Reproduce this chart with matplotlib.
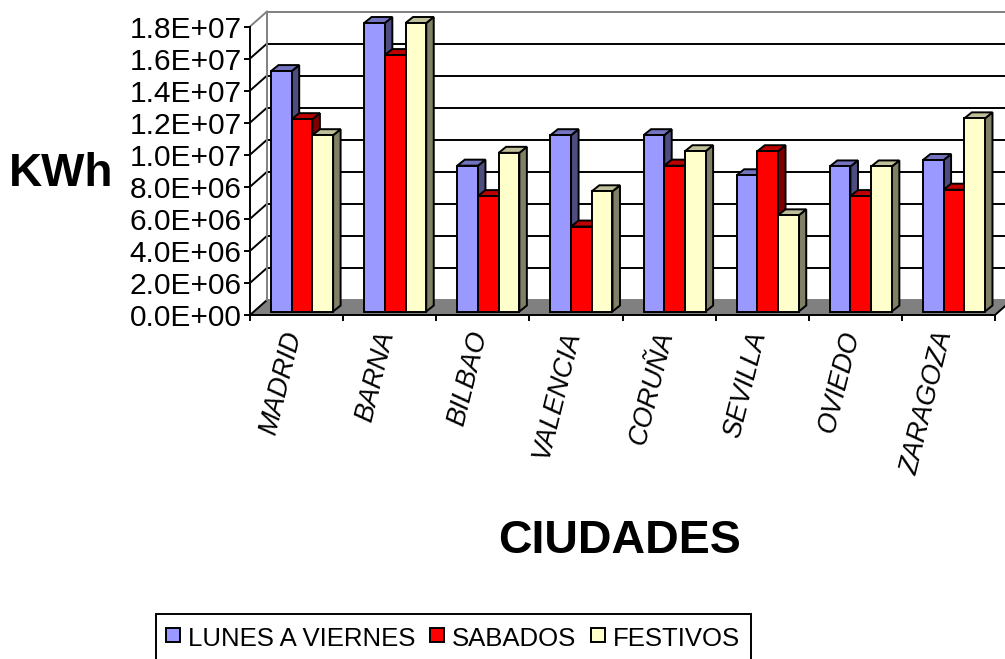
import matplotlib
matplotlib.use("Agg")
import matplotlib.pyplot as plt
from matplotlib.patches import Polygon
from matplotlib.lines import Line2D

plt.rcParams['font.family'] = ['Liberation Sans', 'DejaVu Sans']

ciudades = ["MADRID", "BARNA", "BILBAO", "VALENCIA", "CORUÑA", "SEVILLA", "OVIEDO", "ZARAGOZA"]
lunes_a_viernes = [1.5e7, 1.8e7, 9.1e6, 1.1e7, 1.1e7, 8.5e6, 9.05e6, 9.45e6]
sabados = [1.2e7, 1.6e7, 7.2e6, 5.3e6, 9.1e6, 1.0e7, 7.2e6, 7.6e6]
festivos = [1.1e7, 1.8e7, 9.9e6, 7.5e6, 1.0e7, 6.0e6, 9.05e6, 1.205e7]
y_ticks = [0, 2e6, 4e6, 6e6, 8e6, 1e7, 1.2e7, 1.4e7, 1.6e7, 1.8e7]
y_labels = ["0.0E+00", "2.0E+06", "4.0E+06", "6.0E+06", "8.0E+06",
            "1.0E+07", "1.2E+07", "1.4E+07", "1.6E+07", "1.8E+07"]

W, H = 1005, 659
L, R, B, T = 250, 995, 315, 26.5
fig = plt.figure(figsize=(W / 100, H / 100), dpi=100, facecolor="white")
ax = fig.add_axes([L / W, 1 - B / H, (R - L) / W, (B - T) / H])
ax.set_xlim(0, 8)
ax.set_ylim(0, 1.8e7)
ax.patch.set_visible(False)

px = 8 / (R - L)
py = 1.8e7 / (B - T)
LW = 1.4
wall_dx, wall_dy = 17 * px, 15 * py

# back wall, floor
floor = Polygon([(0, 0), (wall_dx, wall_dy), (8 + wall_dx, wall_dy), (8, 0)],
                closed=True, facecolor="#808080", edgecolor="none", zorder=1, clip_on=False)
ax.add_patch(floor)
for i, v in enumerate(y_ticks):
    top = v == y_ticks[-1]
    zero = v == 0
    col = "#808080" if top or zero else "black"
    ax.plot([wall_dx, 8 + wall_dx], [v + wall_dy] * 2, color=col, lw=LW, clip_on=False, zorder=1.5,
            solid_capstyle="butt")
    ax.plot([0, wall_dx], [v, v + wall_dy], color="#808080" if top else "black", lw=LW,
            clip_on=False, zorder=1.5)
ax.plot([wall_dx, wall_dx], [wall_dy, 1.8e7 + wall_dy], color="#808080", lw=LW, clip_on=False, zorder=1.5)
ax.plot([8, 8 + wall_dx], [0, wall_dy], color="black", lw=LW, clip_on=False, zorder=1.5)

# bars
series = [
    ("LUNES A VIERNES", lunes_a_viernes, "#9999FF", "#7373BF", "#4D4D80"),
    ("SABADOS", sabados, "#FF0000", "#BF0000", "#800000"),
    ("FESTIVOS", festivos, "#FFFFCC", "#BFBF99", "#808066"),
]
w = 20.7 * px
base = 3.5 * py
off = 5.5 * px
d_x, d_y = 7.5 * px, 6 * py
for k, (name, vals, face, topc, sidec) in enumerate(series):
    xs = [i + 0.5 + off + (k - 1) * w for i in range(len(vals))]
    ax.bar(xs, vals, width=w, bottom=base, color=face, edgecolor="black", linewidth=LW,
           zorder=4 + 2 * k, clip_on=False)
    for x, v in zip(xs, vals):
        x0, x1 = x - w / 2, x + w / 2
        y0, y1 = base, base + v
        ax.add_patch(Polygon([(x1, y0), (x1 + d_x, y0 + d_y), (x1 + d_x, y1 + d_y), (x1, y1)],
                             closed=True, facecolor=sidec, edgecolor="black", lw=LW,
                             zorder=3 + 2 * k, clip_on=False))
        ax.add_patch(Polygon([(x0, y1), (x0 + d_x, y1 + d_y), (x1 + d_x, y1 + d_y), (x1, y1)],
                             closed=True, facecolor=topc, edgecolor="black", lw=LW,
                             zorder=3 + 2 * k, clip_on=False))

# axes
for s in ("top", "right"):
    ax.spines[s].set_visible(False)
for s in ("left", "bottom"):
    ax.spines[s].set_linewidth(LW)
    ax.spines[s].set_zorder(2)
ax.set_yticks(y_ticks, y_labels)
ax.set_xticks(range(9), [""] * 9)
ax.set_xticks([i + 0.5 - 3 * px for i in range(8)], ciudades, minor=True)
ax.tick_params(axis="y", length=4, width=LW, labelsize=21.5, pad=2)
ax.tick_params(axis="x", which="major", length=4, width=LW)
ax.tick_params(axis="x", which="minor", length=0, labelsize=19.3, pad=12)
for lab in ax.get_xticklabels(minor=True):
    lab.set(rotation=76, rotation_mode="anchor", ha="right", va="center", style="italic")

ax.set_ylabel("KWh", rotation=0, fontsize=33, fontweight="bold", ha="right", va="center")
ax.yaxis.set_label_coords((113 - L) / (R - L), (B - 174) / (B - T))
ax.set_xlabel("CIUDADES", fontsize=33.5, fontweight="bold", ha="center", va="center")
ax.xaxis.set_label_coords((620 - L) / (R - L), (B - 541) / (B - T))

handles = [Line2D([], [], marker="s", linestyle="none", markersize=9.5, markerfacecolor=s[2],
                  markeredgecolor="black", markeredgewidth=LW, label=s[0]) for s in series]
leg = fig.legend(handles=handles, ncol=3, loc="upper left", numpoints=1,
                 bbox_to_anchor=(156 / W, 1 - 614 / H), fontsize=18.5, frameon=True, fancybox=False,
                 framealpha=1, edgecolor="black", handlelength=0.55, handleheight=1.15,
                 handletextpad=0.3, columnspacing=0.58, borderpad=0.4, borderaxespad=0)
leg.get_frame().set_linewidth(LW)

fig.savefig("out.png", dpi=100)
